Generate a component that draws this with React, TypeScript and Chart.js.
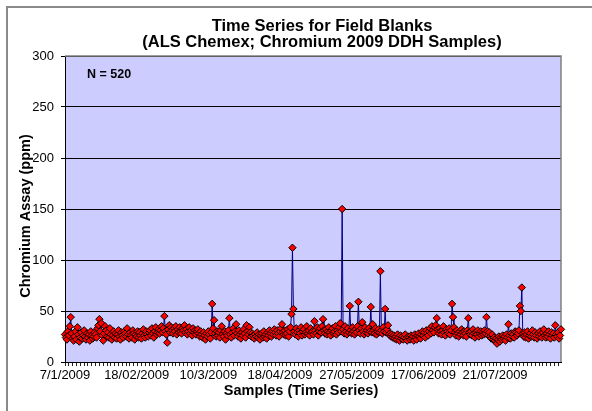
import React, { useEffect, useRef } from 'react';
import { Chart, registerables } from 'chart.js';

Chart.register(...registerables);

const chartTitle = ['Time Series for Field Blanks', '(ALS Chemex; Chromium 2009 DDH Samples)'];
const xAxisTitle = 'Samples (Time Series)';
const yAxisTitle = 'Chromium Assay (ppm)';
const dateTickLabels = ['7/1/2009', '18/02/2009', '10/3/2009', '18/04/2009', '27/05/2009', '17/06/2009', '21/07/2009'];
const dateLabelInterval = 75;
const yMin = 0;
const yMax = 300;
const yStep = 50;

const chromiumPpm = [
  27, 24, 22, 30, 26, 35, 44, 28, 23, 21, 25, 30, 22, 34, 27, 20, 24, 29, 23, 26,
  31, 25, 22, 28, 24, 27, 21, 30, 26, 23, 25, 29, 27, 24, 33, 36, 42, 30, 38, 26,
  21, 28, 35, 31, 25, 29, 24, 33, 27, 22, 26, 30, 24, 28, 23, 27, 31, 25, 22, 29,
  26, 24, 30, 28, 25, 33, 27, 23, 29, 26, 24, 31, 28, 22, 27, 25, 30, 24, 29, 26,
  23, 28, 32, 26, 24, 30, 27, 25, 29, 31, 26, 33, 28, 24, 30, 34, 27, 29, 32, 28,
  31, 35, 29, 33, 45, 30, 27, 19, 32, 36, 29, 34, 31, 28, 33, 30, 35, 27, 32, 29,
  34, 30, 28, 33, 31, 36, 29, 32, 27, 30, 34, 28, 31, 26, 33, 29, 31, 27, 30, 32,
  28, 25, 30, 27, 24, 29, 26, 22, 28, 25, 30, 27, 23, 29, 57, 33, 41, 28, 25, 30,
  26, 29, 24, 31, 35, 27, 25, 30, 22, 28, 26, 31, 43, 27, 24, 29, 33, 26, 30, 37,
  28, 25, 31, 27, 23, 29, 26, 32, 28, 24, 36, 30, 27, 34, 29, 25, 28, 26, 23, 27,
  25, 29, 24, 27, 22, 26, 28, 24, 30, 25, 27, 23, 29, 26, 31, 28, 25, 30, 27, 32,
  29, 26, 31, 28, 25, 30, 33, 37, 29, 27, 31, 26, 28, 32, 25, 30, 34, 47, 112, 52,
  30, 27, 33, 29, 25, 31, 28, 34, 26, 30, 32, 27, 29, 35, 28, 31, 26, 33, 29, 30,
  27, 40, 31, 28, 34, 26, 30, 33, 29, 35, 42, 31, 28, 32, 27, 30, 34, 29, 26, 31,
  33, 28, 30, 35, 27, 31, 29, 34, 38, 30, 150, 32, 28, 35, 30, 27, 33, 29, 55, 31,
  28, 34, 30, 27, 32, 29, 35, 59, 31, 28, 33, 39, 30, 27, 34, 29, 31, 28, 33, 30,
  54, 29, 37, 31, 28, 33, 27, 30, 32, 29, 89, 31, 28, 34, 30, 52, 29, 32, 36, 27,
  28, 25, 27, 24, 26, 23, 25, 22, 27, 24, 21, 26, 23, 25, 22, 24, 27, 23, 21, 25,
  24, 22, 26, 23, 25, 21, 27, 24, 22, 26, 28, 25, 23, 27, 30, 26, 29, 24, 31, 28,
  26, 30, 33, 28, 35, 31, 29, 34, 36, 43, 32, 28, 33, 30, 27, 31, 35, 29, 26, 32,
  30, 28, 33, 27, 31, 57, 44, 34, 29, 26, 31, 28, 25, 30, 27, 32, 29, 26, 30, 28,
  25, 31, 43, 29, 27, 30, 26, 32, 28, 24, 29, 27, 31, 25, 28, 30, 26, 29, 27, 31,
  28, 44, 30, 26, 29, 25, 23, 27, 22, 24, 21, 23, 18, 22, 25, 20, 24, 22, 26, 23,
  25, 21, 27, 24, 37, 26, 23, 28, 25, 27, 24, 30, 29, 26, 28, 31, 55, 50, 73, 28,
  25, 29, 24, 27, 30, 23, 26, 28, 25, 31, 27, 24, 29, 26, 23, 28, 25, 30, 27, 24,
  29, 32, 26, 24, 28, 25, 30, 27, 23, 29, 26, 28, 24, 36, 27, 25, 29, 23, 26, 32,
];

const FONT = '"Liberation Sans", Arial, sans-serif';

const excelLook = {
  id: 'excelLook',
  beforeDraw(chart: any) {
    const { ctx, chartArea: a } = chart;
    ctx.save();
    ctx.fillStyle = '#CCCCFF';
    ctx.fillRect(a.left, a.top, a.right - a.left, a.bottom - a.top);
    ctx.strokeStyle = '#8A8A8A';
    ctx.lineWidth = 2;
    ctx.beginPath();
    ctx.moveTo(7, chart.height);
    ctx.lineTo(7, 7);
    ctx.lineTo(chart.width, 7);
    ctx.stroke();
    ctx.restore();
  },
  beforeDatasetsDraw(chart: any) {
    const { ctx, chartArea: a } = chart;
    ctx.save();
    ctx.strokeStyle = '#808080';
    ctx.lineWidth = 1.5;
    ctx.beginPath();
    ctx.moveTo(a.left, a.top);
    ctx.lineTo(a.right, a.top);
    ctx.lineTo(a.right, a.bottom);
    ctx.stroke();
    ctx.restore();
  },
  afterDraw(chart: any) {
    const { ctx } = chart;
    ctx.save();
    ctx.fillStyle = '#000';
    ctx.textAlign = 'center';
    ctx.textBaseline = 'middle';
    ctx.font = `bold 16.5px ${FONT}`;
    ctx.fillText(chartTitle[0], 322, 26);
    ctx.fillText(chartTitle[1], 322, 42);
    ctx.font = `bold 14.5px ${FONT}`;
    ctx.fillText(xAxisTitle, 301, 391);
    ctx.save();
    ctx.translate(26, 216);
    ctx.rotate(-Math.PI / 2);
    ctx.fillText(yAxisTitle, 0, 0);
    ctx.restore();
    ctx.textAlign = 'left';
    ctx.font = `bold 12.5px ${FONT}`;
    ctx.fillText(`N = ${chromiumPpm.length}`, 87, 75);
    ctx.restore();
  },
};

export default function App() {
  const canvasRef = useRef<HTMLCanvasElement | null>(null);

  useEffect(() => {
    const canvas = canvasRef.current;
    if (!canvas) return;
    const labels = chromiumPpm.map((_, i) =>
      i % dateLabelInterval === 0 && dateTickLabels[i / dateLabelInterval] ? dateTickLabels[i / dateLabelInterval] : ''
    );
    const chart = new Chart(canvas, {
      type: 'line',
      data: {
        labels,
        datasets: [
          {
            data: chromiumPpm,
            borderColor: '#000080',
            borderWidth: 1,
            pointStyle: 'rectRot',
            pointRadius: 3.7,
            pointBackgroundColor: '#FF0000',
            pointBorderColor: '#000000',
            pointBorderWidth: 1,
            tension: 0,
            clip: false,
          } as any,
        ],
      },
      options: {
        responsive: false,
        animation: false,
        layout: { padding: { top: 56, right: 31, left: 0, bottom: 0 } },
        plugins: {
          legend: { display: false },
          title: { display: false },
          tooltip: { enabled: false },
        },
        scales: {
          x: {
            type: 'category',
            offset: false,
            afterFit: (s: any) => {
              s.height = 49;
            },
            grid: {
              drawOnChartArea: false,
              drawTicks: true,
              tickLength: 4,
              color: (c: any) => (c.index % 4 === 0 ? '#222' : 'rgba(0,0,0,0)'),
            },
            border: { display: true, color: '#000', width: 1 },
            ticks: {
              autoSkip: false,
              maxRotation: 0,
              minRotation: 0,
              padding: 2,
              color: '#000',
              font: { family: FONT, size: 13 },
            },
            title: { display: false, text: xAxisTitle },
          },
          y: {
            min: yMin,
            max: yMax,
            afterFit: (s: any) => {
              s.width = 65;
            },
            grid: { color: '#000', lineWidth: 1, tickLength: 4 },
            border: { display: true, color: '#000', width: 1 },
            ticks: {
              stepSize: yStep,
              padding: 7,
              color: '#000',
              font: { family: FONT, size: 13 },
            },
            title: { display: false, text: yAxisTitle },
          },
        },
      },
      plugins: [excelLook],
    });
    return () => chart.destroy();
  }, []);

  return (
    <div style={{ position: 'fixed', left: 0, top: 0, width: 592, height: 411, background: '#fff' }}>
      <canvas ref={canvasRef} width={592} height={411} />
    </div>
  );
}
